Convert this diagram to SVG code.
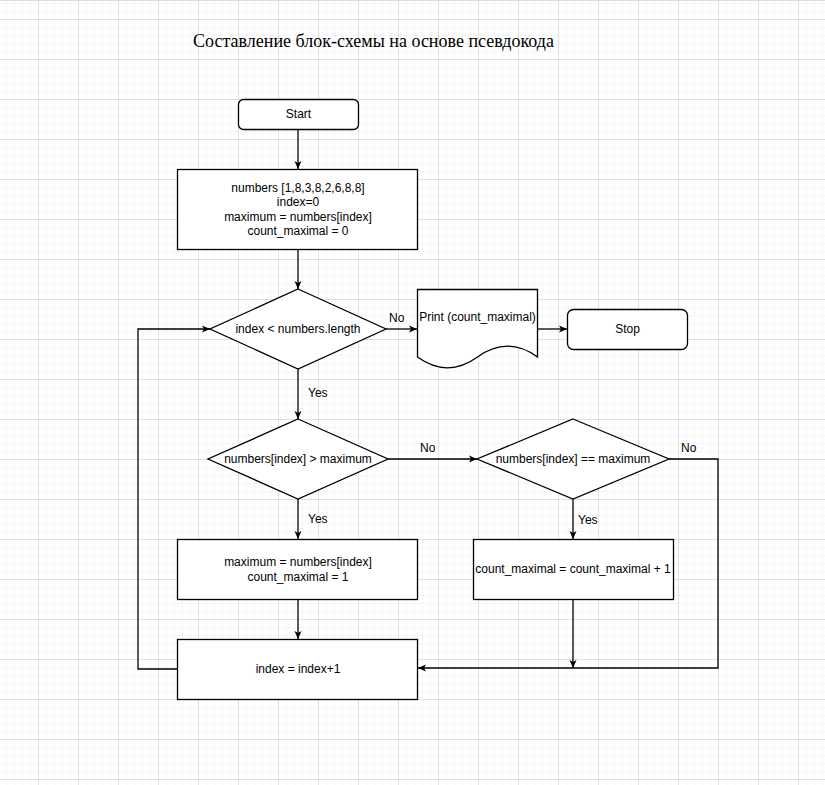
<svg xmlns="http://www.w3.org/2000/svg" width="825" height="785" viewBox="0 0 825 785">
<defs>
<pattern id="grid" patternUnits="userSpaceOnUse" x="38" y="19" width="40" height="40">
<path d="M8.5 0V40M16.5 0V40M24.5 0V40M32.5 0V40M0 8.5H40M0 16.5H40M0 24.5H40M0 32.5H40" stroke="#f5f5f5" stroke-width="1" fill="none"/>
<path d="M0.5 0V40M0 0.5H40" stroke="#e0e0e0" stroke-width="1" fill="none"/>
</pattern>
<marker id="arr" viewBox="0 0 10 10" refX="9" refY="5" markerWidth="10" markerHeight="10" markerUnits="userSpaceOnUse" orient="auto">
<path d="M1 1.5L9 5L1 8.5L3 5Z" fill="#000"/>
</marker>
<style>
.n{fill:#fff;stroke:#000;stroke-width:1.3}
.t{font-family:"Liberation Sans",Arial,sans-serif;font-size:12px;fill:#000;text-anchor:middle;dominant-baseline:central}
.l{font-family:"Liberation Sans",Arial,sans-serif;font-size:12px;fill:#000;dominant-baseline:central}
.c{fill:none;stroke:#000;stroke-width:1.3}
.a{marker-end:url(#arr)}
</style>
</defs>
<rect width="825" height="785" fill="#fff"/>
<rect width="825" height="785" fill="url(#grid)"/>
<line x1="0" y1="0.5" x2="825" y2="0.5" stroke="#dcdcdc"/>
<text x="373.5" y="41" font-family="'Liberation Serif','Times New Roman',serif" font-size="18" text-anchor="middle" dominant-baseline="central" fill="#000">Составление блок-схемы на основе псевдокода</text>

<g id="connectors">
<path class="c a" d="M298 129V169"/>
<path class="c a" d="M298 249V289"/>
<path class="c a" d="M386 329H417"/>
<path class="c a" d="M537 329H567"/>
<path class="c a" d="M298 369V419"/>
<path class="c a" d="M388 459H477"/>
<path class="c a" d="M669 459H718V668H418"/>
<path class="c a" d="M573 499V539"/>
<path class="c a" d="M298 499V539"/>
<path class="c a" d="M298 599V639"/>
<path class="c a" d="M573 599V668"/>
<path class="c a" d="M178 669H138V329H210"/>
<text class="l" x="389" y="318">No</text>
<text class="l" x="308" y="393">Yes</text>
<text class="l" x="420" y="448">No</text>
<text class="l" x="681" y="448">No</text>
<text class="l" x="308" y="519">Yes</text>
<text class="l" x="578" y="520">Yes</text>
</g>

<g id="start">
<rect class="n" x="238.5" y="99.5" width="120" height="30" rx="5"/>
<text class="t" x="298.5" y="114">Start</text>
</g>
<g id="init">
<rect class="n" x="177.5" y="169.5" width="240" height="80"/>
<text class="t" x="298" y="188">numbers [1,8,3,8,2,6,8,8]</text>
<text class="t" x="298" y="202">index=0</text>
<text class="t" x="298" y="217">maximum = numbers[index]</text>
<text class="t" x="298" y="231">count_maximal = 0</text>
</g>
<g id="cond1">
<path class="n" d="M298 289L386 329L298 369L210 329Z"/>
<text class="t" x="298" y="329">index &lt; numbers.length</text>
</g>
<g id="print">
<path class="n" d="M417.5 289.5H537.5V357Q507.5 335.4 477.5 357Q447.5 378.6 417.5 357Z"/>
<text class="t" x="477.5" y="317">Print (count_maximal)</text>
</g>
<g id="stop">
<rect class="n" x="567.5" y="309.5" width="120" height="40" rx="6"/>
<text class="t" x="627.5" y="329">Stop</text>
</g>
<g id="cond2">
<path class="n" d="M298 419L388 459L298 499L208 459Z"/>
<text class="t" x="298" y="459">numbers[index] &gt; maximum</text>
</g>
<g id="cond3">
<path class="n" d="M573 419L669 459L573 499L477 459Z"/>
<text class="t" x="573" y="459">numbers[index] == maximum</text>
</g>
<g id="setmax">
<rect class="n" x="177.5" y="539.5" width="240" height="60"/>
<text class="t" x="298" y="562">maximum = numbers[index]</text>
<text class="t" x="298" y="577">count_maximal = 1</text>
</g>
<g id="inccount">
<rect class="n" x="473.5" y="539.5" width="200" height="60"/>
<text class="t" x="573" y="569">count_maximal = count_maximal + 1</text>
</g>
<g id="incindex">
<rect class="n" x="177.5" y="639.5" width="240" height="60"/>
<text class="t" x="298" y="669">index = index+1</text>
</g>
</svg>
